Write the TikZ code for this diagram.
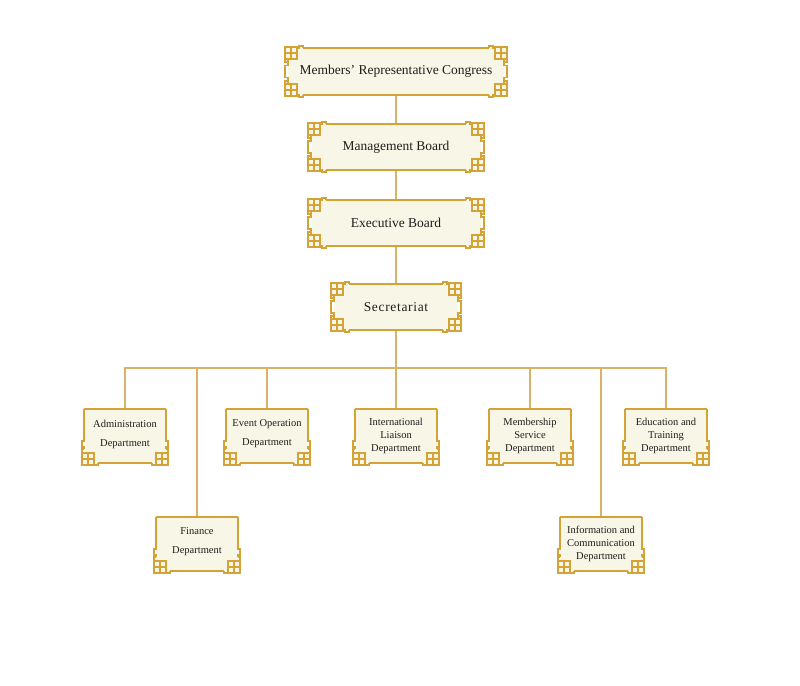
\documentclass[tikz,border=0pt]{standalone}
\usepackage{fontspec}
\setmainfont{Liberation Serif}
\usetikzlibrary{calc}
\definecolor{gold}{HTML}{D4A235}
\definecolor{tan}{HTML}{D9B26A}
\definecolor{cream}{HTML}{F8F6E6}
\definecolor{ink}{HTML}{1E1E1E}
\tikzset{
  frame/.style={draw=gold, line width=1.7pt, line join=miter},
  conn/.style={draw=tan, line width=1.4pt},
  bigbox/.style={rectangle, fill=cream, draw=none, inner sep=0pt, align=center,
    text=ink, font=\fontsize{13.5}{16}\selectfont, minimum height=46pt},
  deptbox/.style={rectangle, fill=cream, draw=none, inner sep=0pt, align=center,
    text=ink, font=\fontsize{10.5}{13}\selectfont, minimum width=81pt, minimum height=54pt},
}
\newcommand{\bigframe}[1]{%
  \draw[frame] ([xshift=15pt]#1.north west) -- ([xshift=-15pt]#1.north east);
  \draw[frame] ([xshift=15pt]#1.south west) -- ([xshift=-15pt]#1.south east);
  \draw[frame] ([yshift=-11pt]#1.north west) -- ([yshift=6pt]#1.west) -- ++(-3,0) -- ++(0,12) -- ++(3,0) -- ([yshift=11pt]#1.south west);
  \draw[frame] ([yshift=-11pt]#1.north east) -- ([yshift=6pt]#1.east) -- ++(3,0) -- ++(0,12) -- ++(-3,0) -- ([yshift=11pt]#1.south east);
  \foreach \a/\sx/\sy in {north west/1/1, north east/-1/1, south west/1/-1, south east/-1/-1}{
    \begin{scope}[shift={(#1.\a)}, xscale=\sx, yscale=\sy]
      \filldraw[frame, fill=cream] (-3,-1) rectangle (9,11);
      \draw[frame] (3,-1) -- (3,11) (-3,5) -- (9,5);
      \draw[frame] (9,0) -- (11,0) -- (11,-2) -- (15,-2) -- (15,0);
      \draw[frame] (-3,11) -- (-3,14) -- (0,14);
    \end{scope}}
}
\newcommand{\deptframe}[1]{%
  \draw[frame] (#1.north west) -- (#1.north east);
  \draw[frame] ([xshift=14pt]#1.south west) -- ([xshift=-14pt]#1.south east);
  \draw[frame] (#1.north west) -- ([yshift=-32pt]#1.north west) -- ++(-2,0) -- ++(0,6) -- ++(2,0) -- ([yshift=14pt]#1.south west);
  \draw[frame] (#1.north east) -- ([yshift=-32pt]#1.north east) -- ++(2,0) -- ++(0,6) -- ++(-2,0) -- ([yshift=14pt]#1.south east);
  \foreach \a/\sx in {south west/1, south east/-1}{
    \begin{scope}[shift={(#1.\a)}, xscale=\sx, yscale=-1]
      \filldraw[frame, fill=cream] (-2,-2) rectangle (10,10);
      \draw[frame] (4,-2) -- (4,10) (-2,4) -- (10,4);
      \draw[frame] (10,-2) -- (14,-2) -- (14,0) (-2,10) -- (-2,14) -- (0,14);
    \end{scope}}
}
\begin{document}
\begin{tikzpicture}[x=1pt, y=-1pt]
\useasboundingbox[fill=white] (0,0) rectangle (800,685);
% top chain
\node[bigbox, minimum width=216pt, minimum height=47pt] (mrc) at (396,71.5) {Members’ Representative Congress};
\node[bigbox, minimum width=169pt] (mb) at (396,147) {Management Board};
\node[bigbox, minimum width=169pt] (eb) at (396,223) {Executive Board};
\node[bigbox, minimum width=124pt] (sec) at (396,307) {\addfontfeatures{LetterSpace=5}Secretariat};
% departments
\node[deptbox] (adm) at (125,436) {Administration\\[6pt]Department\rule[-6pt]{0pt}{0pt}};
\node[deptbox] (evt) at (267,436) {Event Operation\\[6pt]Department\rule[-6pt]{0pt}{0pt}};
\node[deptbox] (intl) at (396,436) {International\\Liaison\\Department};
\node[deptbox] (mem) at (530,436) {Membership\\Service\\Department};
\node[deptbox] (edu) at (666,436) {Education and\\Training\\Department};
\node[deptbox] (fin) at (197,544) {Finance\\[6pt]Department\rule[-6pt]{0pt}{0pt}};
\node[deptbox] (info) at (601,544) {Information and\\Communication\\Department};
\coordinate (bus) at (396,368);
% connectors
\draw[conn] (mrc) -- (mb);
\draw[conn] (mb) -- (eb);
\draw[conn] (eb) -- (sec);
\draw[conn] (sec.south) -- (bus);
\foreach \d in {adm,fin,evt,intl,mem,info,edu}{
  \draw[conn] (bus) -| (\d.north);
}
% frames
\bigframe{mrc}
\bigframe{mb}
\bigframe{eb}
\bigframe{sec}
\foreach \d in {adm,fin,evt,intl,mem,info,edu}{\deptframe{\d}}
\end{tikzpicture}
\end{document}
